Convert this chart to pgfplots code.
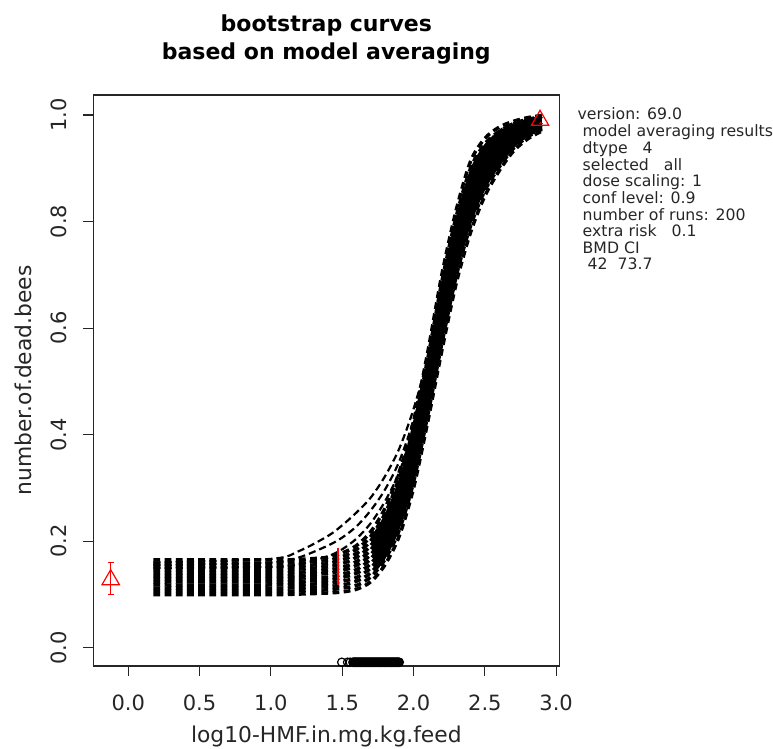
\documentclass[border=0pt]{standalone}
\usepackage{fontspec}
\setmainfont{DejaVu Sans}
\usepackage{pgfplots}
\pgfplotsset{compat=1.18}
\usepgfplotslibrary{fillbetween}
\usepackage{pgfplotstable}

\pgfplotstableread{
x     c0    c1    c2    c3    c4    c5    c6    c7    c8    c9    c10   c11   o1    o2    o3
0.176 0.100 0.106 0.112 0.118 0.124 0.130 0.135 0.141 0.147 0.153 0.159 0.165 0.160 0.155 0.150
1.0   0.100 0.106 0.112 0.118 0.124 0.130 0.135 0.141 0.147 0.153 0.159 0.165 0.167 0.160 0.152
1.2   0.101 0.107 0.113 0.119 0.125 0.131 0.136 0.142 0.148 0.154 0.160 0.166 0.182 0.170 0.157
1.4   0.103 0.109 0.115 0.121 0.127 0.133 0.140 0.146 0.152 0.158 0.164 0.170 0.210 0.192 0.172
1.5   0.105 0.112 0.118 0.125 0.132 0.138 0.145 0.151 0.158 0.165 0.171 0.178 0.230 0.207 0.185
1.6   0.110 0.117 0.125 0.132 0.140 0.147 0.155 0.162 0.170 0.177 0.185 0.192 0.254 0.228 0.205
1.7   0.124 0.133 0.141 0.150 0.158 0.167 0.175 0.184 0.192 0.201 0.209 0.218 0.282 0.258 0.234
1.8   0.156 0.166 0.175 0.185 0.195 0.204 0.214 0.223 0.233 0.243 0.252 0.262 0.322 0.297 0.275
1.9   0.210 0.221 0.232 0.243 0.254 0.265 0.275 0.286 0.297 0.308 0.319 0.330 0.374 0.350 0.330
2.0   0.300 0.311 0.323 0.334 0.345 0.357 0.368 0.380 0.391 0.402 0.414 0.425 0.448 0.428 0.412
2.1   0.425 0.437 0.449 0.460 0.472 0.484 0.496 0.508 0.520 0.531 0.543 0.555 0.545 0.533 0.520
2.2   0.560 0.573 0.586 0.599 0.612 0.624 0.637 0.650 0.663 0.676 0.689 0.702 0.665 0.658 0.648
2.3   0.685 0.698 0.710 0.722 0.735 0.747 0.760 0.772 0.784 0.797 0.810 0.822 0.790 0.783 0.775
2.4   0.780 0.792 0.804 0.816 0.828 0.840 0.852 0.864 0.876 0.888 0.900 0.913 0.885 0.878 0.870
2.5   0.848 0.858 0.868 0.878 0.887 0.897 0.907 0.917 0.927 0.936 0.946 0.956 0.940 0.934 0.928
2.6   0.895 0.902 0.910 0.917 0.925 0.932 0.939 0.947 0.954 0.962 0.969 0.977 0.970 0.965 0.962
2.7   0.932 0.937 0.942 0.947 0.953 0.958 0.963 0.968 0.973 0.978 0.983 0.988 0.985 0.982 0.980
2.8   0.955 0.959 0.962 0.966 0.970 0.973 0.977 0.980 0.984 0.988 0.991 0.995 0.993 0.991 0.990
2.9   0.970 0.973 0.975 0.978 0.981 0.983 0.986 0.989 0.991 0.994 0.996 0.999 0.998 0.996 0.995
}\curves

\pgfplotsset{curve/.style={black, smooth, line width=1.75pt, dash pattern=on 3.4pt off 2.2pt, mark=none},
  ocurve/.style={black, smooth, line width=1.1pt, dash pattern=on 3.6pt off 2pt, mark=none}}

\begin{document}
\begin{tikzpicture}
\begin{axis}[
  at={(0pt,0pt)}, anchor=south west,
  scale only axis, width=233pt, height=285.5pt,
  xmin=-0.245, xmax=3.022, ymin=-0.034, ymax=1.0375,
  clip=false,
  axis line style={line width=0.6pt, black!85},
  tick align=outside, major tick length=5pt,
  tick pos=left,
  tick style={line width=0.6pt, black!85},
  xtick={0,0.5,1,1.5,2,2.5,3}, xticklabels={0.0,0.5,1.0,1.5,2.0,2.5,3.0},
  ytick={0,0.2,0.4,0.6,0.8,1}, yticklabels={0.0,0.2,0.4,0.6,0.8,1.0},
  /pgf/number format/assume math mode=true,
  tick label style={font=\fontsize{10.5}{12}\selectfont, text=black!85},
  xticklabel style={anchor=base, yshift=-17.1pt},
  yticklabel style={xshift=-8.3pt, rotate=90, anchor=base},
]
% observed data (red) drawn under the curves
\addplot[red, line width=0.6pt] coordinates {(2.19,0.56) (2.19,0.64)};
\addplot[red, only marks, mark=triangle, mark size=5pt, mark options={red, line width=0.6pt},
  error bars/.cd, y dir=both, y explicit, error mark=-,
  error mark options={red, mark size=1.6pt, line width=0.6pt, rotate=90},
  error bar style={red, line width=0.6pt}]
  coordinates {(-0.123,0.128) += (0,0.032) -= (0,0.028) (2.887,0.990) +- (0,0.006)};

% bootstrap curves
\addplot[curve, name path=lo] table[x=x, y=c1] {\curves};
\addplot[curve, name path=hi] table[x=x, y=c10] {\curves};
\addplot[fill=black, draw=none] fill between[of=lo and hi, soft clip={domain=1.72:2.9}];
\pgfplotsinvokeforeach{0,2,3,4,5,6,7,8,9,11}{
  \addplot[curve] table[x=x, y=c#1] {\curves};
}
\addplot[ocurve] table[x=x, y=o1] {\curves};
\addplot[ocurve] table[x=x, y=o2] {\curves};
\addplot[ocurve] table[x=x, y=o3] {\curves};

\addplot[red, line width=0.6pt] coordinates {(1.47,0.118) (1.47,0.187)};

% bootstrap BMD values along the bottom
\addplot[only marks, mark=o, mark size=2.1pt, mark options={black, line width=0.6pt}] coordinates {
(1.497,-0.027) (1.538,-0.027) (1.556,-0.027)
(1.575,-0.027) (1.580,-0.027) (1.585,-0.027) (1.590,-0.027) (1.595,-0.027)
(1.600,-0.027) (1.605,-0.027) (1.610,-0.027) (1.615,-0.027) (1.620,-0.027)
(1.625,-0.027) (1.630,-0.027) (1.635,-0.027) (1.640,-0.027) (1.645,-0.027)
(1.650,-0.027) (1.655,-0.027) (1.660,-0.027) (1.665,-0.027) (1.670,-0.027)
(1.675,-0.027) (1.680,-0.027) (1.685,-0.027) (1.690,-0.027) (1.695,-0.027)
(1.700,-0.027) (1.705,-0.027) (1.710,-0.027) (1.715,-0.027) (1.720,-0.027)
(1.725,-0.027) (1.730,-0.027) (1.735,-0.027) (1.740,-0.027) (1.745,-0.027)
(1.750,-0.027) (1.755,-0.027) (1.760,-0.027) (1.765,-0.027) (1.770,-0.027)
(1.775,-0.027) (1.780,-0.027) (1.785,-0.027) (1.790,-0.027) (1.795,-0.027)
(1.800,-0.027) (1.805,-0.027) (1.810,-0.027) (1.815,-0.027) (1.820,-0.027)
(1.825,-0.027) (1.830,-0.027) (1.835,-0.027) (1.840,-0.027) (1.845,-0.027)
(1.850,-0.027) (1.855,-0.027) (1.860,-0.027) (1.865,-0.027) (1.870,-0.027)
(1.875,-0.027) (1.880,-0.027) (1.885,-0.027) (1.890,-0.027) (1.895,-0.027)
(1.900,-0.027)};

% titles and labels
\node[anchor=base, font=\bfseries\fontsize{11}{13}\selectfont] at ([yshift=31.65pt]rel axis cs:0.5,1) {bootstrap curves};
\node[anchor=base, font=\bfseries\fontsize{11}{13}\selectfont] at ([yshift=17.85pt]rel axis cs:0.5,1) {based on model averaging};
\node[anchor=base, font=\fontsize{10.9}{13}\selectfont, text=black!85] at ([yshift=-38.5pt]rel axis cs:0.5,0) {log10-HMF.in.mg.kg.feed};
\node[anchor=base, rotate=90, font=\fontsize{10.9}{13}\selectfont, text=black!85] at ([xshift=-31.1pt]rel axis cs:0,0.5) {number.of.dead.bees};
\node[anchor=base west, inner sep=0pt, font=\fontsize{7.85}{7.95}\selectfont, text=black!85] at ([xshift=9pt, yshift=-12.5pt]rel axis cs:1,1)
  {\begin{tabular}[t]{@{}l@{}}
  version: 69.0\\
  \ model averaging results\\
  \ dtype\ \ \ 4\\
  \ selected\ \ \ all\\
  \ dose scaling: 1\\
  \ conf level: 0.9\\
  \ number of runs: 200\\
  \ extra risk\ \ \ 0.1\\
  \ BMD CI\\
  \ \ 42\ \ 73.7
  \end{tabular}};
\end{axis}
\pgfresetboundingbox
\path[use as bounding box] (-46.65pt,-41.5pt) rectangle (339.85pt,333pt);
\end{tikzpicture}
\end{document}
